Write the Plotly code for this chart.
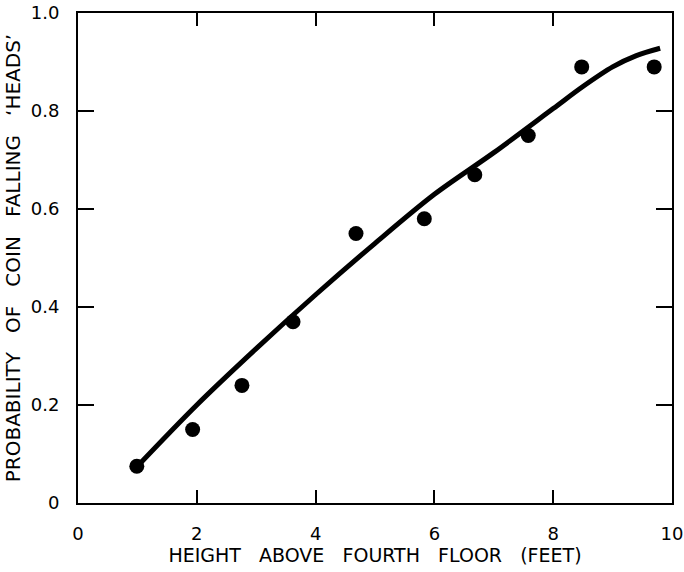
import plotly.graph_objects as go

# Observed data points
height_ft = [0.99, 1.93, 2.76, 3.62, 4.68, 5.83, 6.68, 7.58, 8.48, 9.7]
prob_heads = [0.075, 0.15, 0.24, 0.37, 0.55, 0.58, 0.67, 0.75, 0.89, 0.89]

# Fitted curve
curve_x = [1.0, 2.0, 3.0, 4.0, 5.0, 6.0, 7.0, 8.0, 8.5, 9.0, 9.4, 9.8]
curve_y = [0.075, 0.20, 0.315, 0.425, 0.53, 0.63, 0.715, 0.805, 0.85, 0.89, 0.913, 0.928]

x_ticks = [0, 2, 4, 6, 8, 10]
x_tick_labels = ["0", "2", "4", "6", "8", "10"]
y_ticks = [0, 0.2, 0.4, 0.6, 0.8, 1.0]
y_tick_labels = ["0", "0.2", "0.4", "0.6", "0.8", "1.0"]

FONT = "DejaVu Sans"

fig = go.Figure()
fig.add_trace(go.Scatter(
    x=curve_x, y=curve_y, mode="lines",
    line=dict(color="black", width=5, shape="spline", smoothing=0.9),
    hoverinfo="skip", showlegend=False,
))
fig.add_trace(go.Scatter(
    x=height_ft, y=prob_heads, mode="markers",
    marker=dict(color="black", size=15),
    showlegend=False,
))

axis_common = dict(
    showgrid=False, zeroline=False, showline=True, linecolor="black", linewidth=2,
    mirror="ticks", ticks="inside", tickcolor="black", tickwidth=2,
    tickfont=dict(family=FONT, size=18, color="black"),
    automargin=False,
)

fig.update_xaxes(
    range=[0, 10], tickvals=x_ticks, ticktext=x_tick_labels, ticklen=13,
    ticklabelstandoff=13,
    title=dict(text="HEIGHT   ABOVE   FOURTH   FLOOR   (FEET)",
               font=dict(family=FONT, size=19, color="black"), standoff=4),
    **axis_common,
)
fig.update_yaxes(
    range=[0, 1.0], tickvals=y_ticks, ticktext=y_tick_labels, ticklen=16,
    ticklabelstandoff=13,
    title=dict(text="PROBABILITY   OF   COIN   FALLING   ‘HEADS’",
               font=dict(family=FONT, size=20, color="black"), standoff=5),
    **axis_common,
)

fig.update_layout(
    width=684, height=572,
    margin=dict(l=78, r=12, t=13, b=69),
    paper_bgcolor="white", plot_bgcolor="white",
)

fig.write_html(
    "out.html",
    config={"displayModeBar": False},
    post_script="document.body.style.margin='0';document.body.style.padding='0';",
)
